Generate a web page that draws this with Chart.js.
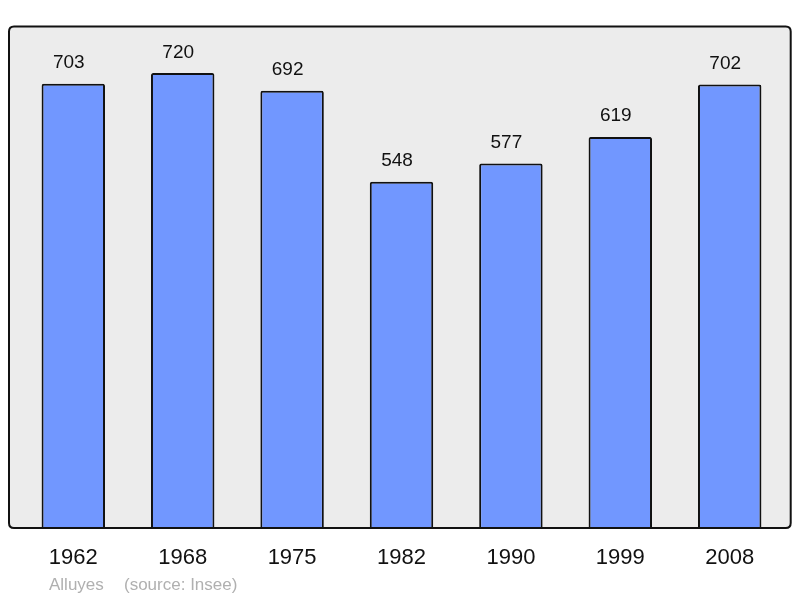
<!DOCTYPE html>
<html>
<head>
<meta charset="utf-8">
<script src="https://cdn.jsdelivr.net/npm/chart.js@4"></script>
<style>
html,body{margin:0;padding:0;background:#fff;}
#wrap{width:800px;height:598px;position:relative;}
</style>
</head>
<body>
<div id="wrap"><canvas id="c" width="800" height="598"></canvas></div>
<script>
const years = ['1962','1968','1975','1982','1990','1999','2008'];
const population = [703, 720, 692, 548, 577, 619, 702];
const placeName = 'Alluyes';
const sourceText = '(source: Insee)';

const FONT = '"Liberation Sans", Arial, sans-serif';

function boxPath(ctx, x0, y0, x1, y1, r) {
  ctx.beginPath();
  ctx.moveTo(x0 + r, y0);
  ctx.lineTo(x1 - r, y0);
  ctx.quadraticCurveTo(x1, y0, x1, y0 + r);
  ctx.lineTo(x1, y1 - r);
  ctx.quadraticCurveTo(x1, y1, x1 - r, y1);
  ctx.lineTo(x0 + r, y1);
  ctx.quadraticCurveTo(x0, y1, x0, y1 - r);
  ctx.lineTo(x0, y0 + r);
  ctx.quadraticCurveTo(x0, y0, x0 + r, y0);
  ctx.closePath();
}

const boxPlugin = {
  id: 'box',
  beforeDraw(chart) {
    const {ctx, chartArea: a} = chart;
    const x0 = a.left - 9.6, x1 = a.right + 6.3, y0 = a.top - 0.5, y1 = a.bottom;
    chart.$box = [x0, y0, x1, y1, 5];
    ctx.save();
    boxPath(ctx, x0, y0, x1, y1, 5);
    ctx.fillStyle = '#ececec';
    ctx.fill();
    ctx.restore();
  },
  afterDatasetsDraw(chart) {
    const {ctx} = chart;
    const [x0, y0, x1, y1, r] = chart.$box;
    ctx.save();
    boxPath(ctx, x0, y0, x1, y1, r);
    ctx.lineWidth = 2;
    ctx.strokeStyle = '#111';
    ctx.stroke();

    // value labels
    const meta = chart.getDatasetMeta(0);
    ctx.fillStyle = '#111';
    ctx.font = '19px ' + FONT;
    ctx.textAlign = 'center';
    ctx.textBaseline = 'alphabetic';
    meta.data.forEach((bar, i) => {
      ctx.fillText(String(population[i]), bar.x - 4.5, bar.y - 15.5);
    });

    // footer
    ctx.fillStyle = '#b0b0b0';
    ctx.font = '17px ' + FONT;
    ctx.textAlign = 'left';
    ctx.fillText(placeName, 49, 589.5);
    ctx.fillText(sourceText, 124, 589.5);
    ctx.restore();
  }
};

new Chart(document.getElementById('c'), {
  type: 'bar',
  data: {
    labels: years,
    datasets: [{
      data: population,
      backgroundColor: '#7197ff',
      borderColor: '#111',
      borderWidth: 2,
      borderRadius: 2,
      borderSkipped: 'bottom',
      categoryPercentage: 1,
      barPercentage: 0.58
    }]
  },
  options: {
    responsive: false,
    animation: false,
    devicePixelRatio: 1,
    layout: { padding: { left: 18.6, right: 15.6, top: 27, bottom: 9.6 } },
    plugins: { legend: { display: false }, tooltip: { enabled: false } },
    scales: {
      y: { display: false, min: 0, max: 793 },
      x: {
        grid: { display: false, drawTicks: false },
        border: { display: false },
        ticks: { color: '#111', font: { size: 22, family: FONT }, padding: 17 }
      }
    }
  },
  plugins: [boxPlugin]
});
</script>
</body>
</html>
